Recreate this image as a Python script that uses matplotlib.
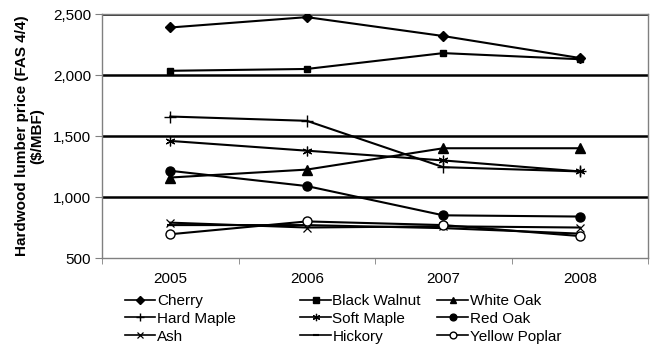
import matplotlib
matplotlib.use("Agg")
import matplotlib.pyplot as plt

years = ["2005", "2006", "2007", "2008"]
species = ["Cherry", "Black Walnut", "White Oak",
           "Hard Maple", "Soft Maple", "Red Oak",
           "Ash", "Hickory", "Yellow Poplar"]
cherry = [2390, 2475, 2320, 2140]
black_walnut = [2035, 2050, 2180, 2130]
white_oak = [1160, 1225, 1400, 1400]
hard_maple = [1660, 1625, 1245, 1210]
soft_maple = [1460, 1380, 1300, 1210]
red_oak = [1215, 1090, 850, 840]
ash = [790, 750, 760, 750]
hickory = [770, 770, 745, 700]
yellow_poplar = [695, 800, 770, 680]
values = [cherry, black_walnut, white_oak, hard_maple, soft_maple,
          red_oak, ash, hickory, yellow_poplar]
yticks = [500, 1000, 1500, 2000, 2500]
ytick_labels = ["500", "1,000", "1,500", "2,000", "2,500"]

styles = [
    dict(marker="D", ms=5, mfc="black"),
    dict(marker="s", ms=5, mfc="black"),
    dict(marker="^", ms=6.5, mfc="black"),
    dict(marker="+", ms=8, mew=1.0),
    dict(marker=(6, 2, 0), ms=7, mew=0.9),
    dict(marker="o", ms=6.5, mfc="black"),
    dict(marker="x", ms=5.5, mew=0.9),
    dict(marker="_", ms=5, mew=1.5),
    dict(marker="o", ms=6.5, mfc="white", mew=1.0),
]

plt.rcParams["font.family"] = ["Liberation Sans", "DejaVu Sans"]
fig = plt.figure(figsize=(6.5, 3.52), dpi=100)
ax = fig.add_axes([0.157, 0.267, 0.84, 0.693])

x = list(range(len(years)))
handles = []
for name, vals, st in zip(species, values, styles):
    ln, = ax.plot(x, vals, color="black", lw=1.5, mec="black",
                  label=name, zorder=3, **st)
    handles.append(ln)

ax.set_ylim(500, 2500)
ax.set_xlim(-0.5, 3.5)
ax.set_yticks(yticks)
ax.set_yticklabels(ytick_labels, fontsize=11)
for v in yticks[1:]:
    ax.axhline(v, color="black", lw=1.8, zorder=1)

ax.set_xticks(x)
ax.set_xticklabels(years, fontsize=11)
ax.tick_params(axis="x", length=0, pad=10)
ax.set_xticks([-0.5, 0.5, 1.5, 2.5, 3.5], minor=True)
ax.tick_params(axis="x", which="minor", length=4, color="#808080", direction="out")
ax.tick_params(axis="y", length=5, color="#808080", direction="out", pad=3)

for side in ["left", "bottom", "right", "top"]:
    ax.spines[side].set_color("#808080")
    ax.spines[side].set_linewidth(1.0)

ax.set_ylabel("Hardwood lumber price (FAS 4/4)\n($/MBF)", fontsize=11,
              fontweight="bold", linespacing=1.1, labelpad=6)

# legend laid out as three fixed columns
col_x = [0.192, 0.462, 0.673]
for c in range(3):
    idx = [c, c + 3, c + 6]
    leg = fig.legend([handles[i] for i in idx], [species[i] for i in idx],
                     loc="upper left", bbox_to_anchor=(col_x[c], 0.165),
                     frameon=False, fontsize=11, handlelength=2.0,
                     handletextpad=0.1, labelspacing=0.25,
                     borderaxespad=0, borderpad=0)
    for lh in leg.legend_handles:
        lh.set_linewidth(1.2)
        lh.set_markersize(lh.get_markersize() * 0.75)

fig.savefig("out.png", dpi=100)
